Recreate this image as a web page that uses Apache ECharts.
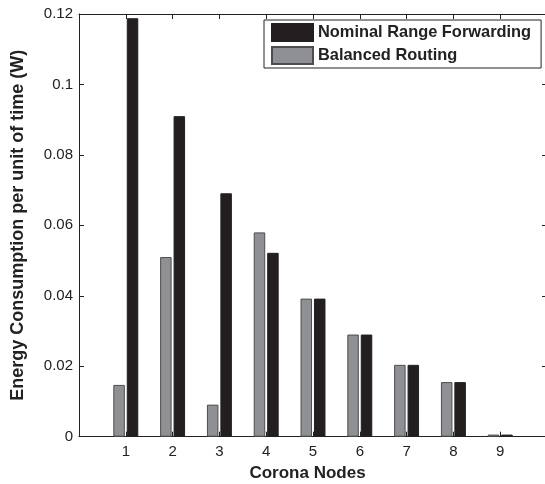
<!DOCTYPE html>
<html>
<head>
<meta charset="utf-8">
<script src="https://cdn.jsdelivr.net/npm/echarts@6/dist/echarts.min.js"></script>
<style>html,body{margin:0;padding:0;background:#fff}#c{width:545px;height:484px}</style>
</head>
<body>
<div id="c"></div>
<script>
const nodes = [1, 2, 3, 4, 5, 6, 7, 8, 9];
const balancedRouting = [0.0147, 0.0510, 0.0091, 0.0580, 0.0392, 0.0290, 0.0204, 0.0155, 0.0006];
const nominalRange = [0.1188, 0.0910, 0.0691, 0.0522, 0.0392, 0.0290, 0.0204, 0.0155, 0.0006];
const yTicks = [0, 0.02, 0.04, 0.06, 0.08, 0.1, 0.12];

const FONT = 'Liberation Sans';
const chart = echarts.init(document.getElementById('c'), null, {renderer: 'canvas'});
const axisLine = () => ({show: true, onZero: false, lineStyle: {color: '#222', width: 1}});
const tick = () => ({show: true, inside: true, length: 5, lineStyle: {color: '#222', width: 1}});
chart.setOption({
  animation: false,
  backgroundColor: '#fff',
  grid: {left: 79, top: 14, width: 468, height: 422.7, containLabel: false, outerBoundsMode: 'none'},
  legend: {
    orient: 'vertical', left: 264, top: 20,
    data: ['Nominal Range Forwarding', 'Balanced Routing'],
    icon: 'rect', itemWidth: 41, itemHeight: 17, itemGap: 4,
    borderColor: '#222', borderWidth: 1, padding: [3, 10, 3, 7],
    backgroundColor: '#fff',
    textStyle: {fontFamily: FONT, fontSize: 16.4, fontWeight: 'bold', color: '#222'}
  },
  xAxis: [{
    type: 'value', min: 0, max: 10, interval: 1, position: 'bottom',
    name: 'Corona Nodes', nameLocation: 'middle', nameGap: 28,
    nameTextStyle: {fontFamily: FONT, fontSize: 17, fontWeight: 'bold', color: '#222', padding: [0, 11, 0, 0]},
    axisLine: axisLine(), axisTick: tick(), splitLine: {show: false},
    axisLabel: {fontFamily: FONT, fontSize: 15, color: '#222', margin: 8,
      formatter: v => (nodes.indexOf(v) >= 0 ? String(v) : '')}
  }, {
    type: 'value', min: 0, max: 10, interval: 1, position: 'top',
    axisLine: axisLine(), axisTick: tick(), splitLine: {show: false}, axisLabel: {show: false}
  }],
  yAxis: [{
    type: 'value', min: 0, max: 0.12, interval: 0.02, position: 'left',
    name: 'Energy Consumption per unit of time (W)', nameLocation: 'middle', nameGap: 52,
    nameTextStyle: {fontFamily: FONT, fontSize: 18, fontWeight: 'bold', color: '#222'},
    axisLine: axisLine(), axisTick: tick(), splitLine: {show: false},
    axisLabel: {fontFamily: FONT, fontSize: 15, color: '#222', margin: 6,
      formatter: v => { const t = yTicks.find(x => Math.abs(x - v) < 1e-9); return t === undefined ? '' : String(t); }}
  }, {
    type: 'value', min: 0, max: 0.12, interval: 0.02, position: 'right',
    axisLine: axisLine(), axisTick: tick(), splitLine: {show: false}, axisLabel: {show: false}
  }],
  series: [{
    name: 'Balanced Routing', type: 'bar', xAxisIndex: 0, yAxisIndex: 0,
    barWidth: 11.5, barGap: '17%',
    itemStyle: {color: '#8f9094', borderColor: '#4d4d4f', borderWidth: 1},
    data: nodes.map((n, i) => [n, balancedRouting[i]])
  }, {
    name: 'Nominal Range Forwarding', type: 'bar', xAxisIndex: 0, yAxisIndex: 0,
    barWidth: 11.5, barGap: '17%',
    itemStyle: {color: '#231f20', borderColor: '#231f20', borderWidth: 1},
    data: nodes.map((n, i) => [n, nominalRange[i]])
  }]
});
</script>
</body>
</html>
